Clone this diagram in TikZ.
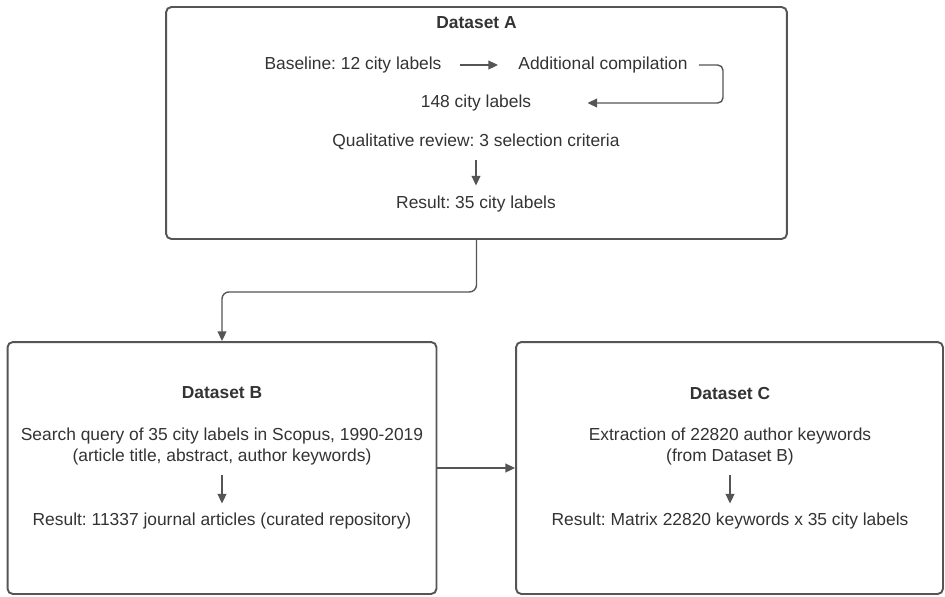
\documentclass[tikz,border=0pt]{standalone}
\usepackage{fontspec}
\setmainfont{Liberation Sans}
\usepackage{xcolor}
\definecolor{lcgray}{RGB}{85, 85, 85}
\definecolor{lctext}{RGB}{51, 51, 51}
\usetikzlibrary{arrows.meta, positioning}
\frenchspacing

\begin{document}
\begin{tikzpicture}[
        x=0.02cm, y=-0.02cm,
        box/.style={
            rectangle,
            draw=lcgray,
            line width=1.1pt,
            fill=white,
            rounded corners=3pt
        },
        txt/.style={
            text=lctext,
            inner sep=0pt,
            font=\fontsize{9.9}{12}\selectfont
        },
        title/.style={
            txt,
            font=\fontsize{9.9}{12}\selectfont\bfseries
        },
        arrow/.style={
            -{Triangle[length=5.5pt, width=5pt]},
            line width=0.8pt,
            color=lcgray
        }
    ]
        \useasboundingbox (0,0) rectangle (945,596);

        % Boxes
        \node[box, minimum width=12.42cm, minimum height=4.64cm] (setA) at (476.5,123) {};
        \node[box, minimum width=8.58cm, minimum height=5.04cm] (setB) at (222,468) {};
        \node[box, minimum width=8.54cm, minimum height=5.04cm] (setC) at (729.5,468) {};

        % Dataset A
        \node[title] (titleA) at (476.5,23) {Dataset A};
        \node[txt] (base) at (353,65) {Baseline: 12 city labels};
        \node[txt] (addl) at (603,65) {Additional compilation};
        \node[txt] (n148) at (476,103) {148 city labels};
        \node[txt] (qual) at (476,142) {Qualitative review: 3 selection criteria};
        \node[txt] (resA) at (476,204) {Result: 35 city labels};
        \coordinate (bendA) at (723,65);

        % Dataset B
        \node[title] (titleB) at (222,393) {Dataset B};
        \node[txt] (queryB) at (222,436) {Search query of 35 city labels in Scopus, 1990-2019};
        \node[txt] (artB) at (222,457) {(article title, abstract, author keywords)};
        \node[txt] (resB) at (222,521) {Result: 11337 journal articles (curated repository)};

        % Dataset C
        \node[title] (titleC) at (730,393) {Dataset C};
        \node[txt] (extC) at (730,436) {Extraction of 22820 author keywords};
        \node[txt] (fromC) at (730,457) {(from Dataset B)};
        \node[txt] (resC) at (730,521) {Result: Matrix 22820 keywords x 35 city labels};

        % Arrows
        \draw[arrow, shorten <=0.36cm, shorten >=0.4cm] (base) -- (addl);
        \draw[arrow, rounded corners=3pt, shorten <=0.22cm, shorten >=1.12cm] (addl.east) -- (bendA) |- (n148.east);
        \draw[arrow, shorten <=0.2cm, shorten >=0.2cm] (qual) -- (resA);
        \draw[arrow, rounded corners=4pt] (setA.south) -- ++(0,52) -| (setB.north);
        \draw[arrow] (setB.east) -- (setC.west);
        \draw[arrow, shorten <=0.2cm, shorten >=0.18cm] (artB) -- (resB);
        \draw[arrow, shorten <=0.2cm, shorten >=0.18cm] (fromC) -- (resC);
    \end{tikzpicture}
\end{document}
